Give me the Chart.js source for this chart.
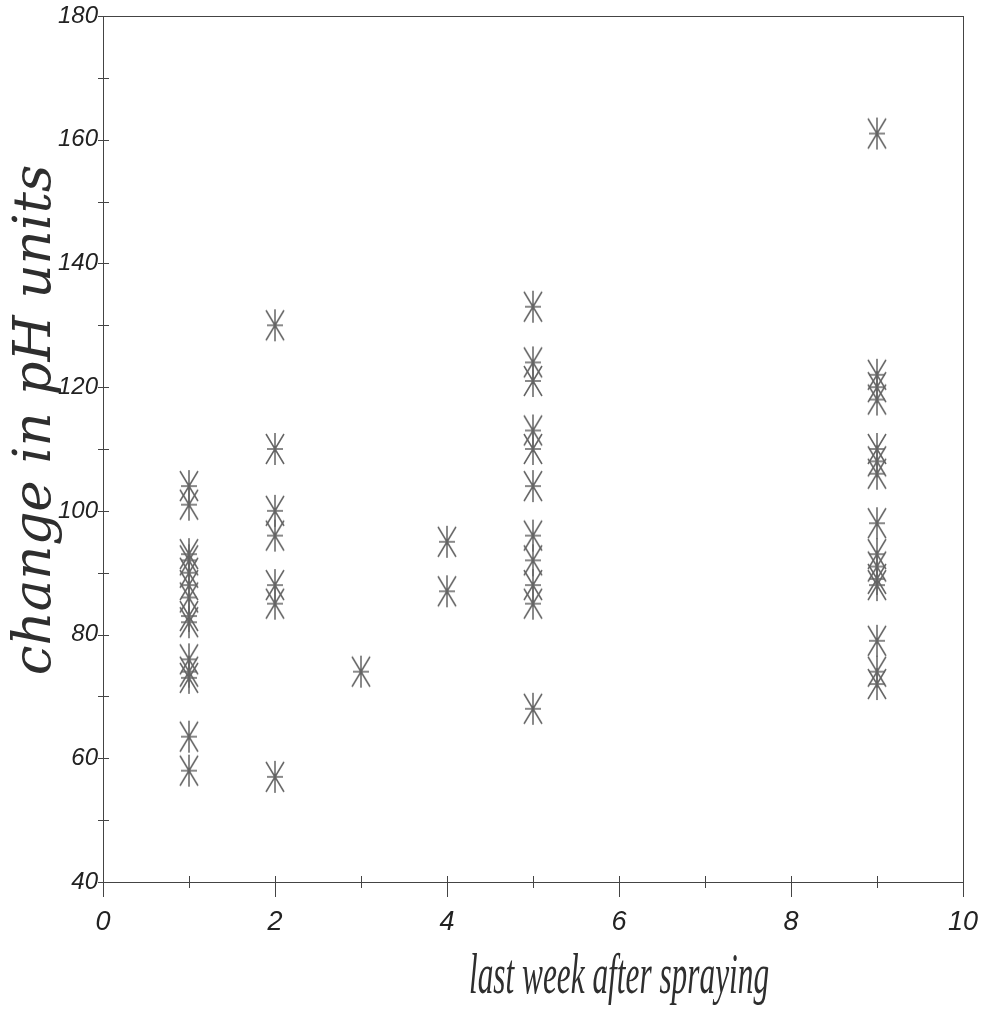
<!DOCTYPE html>
<html>
<head>
<meta charset="utf-8">
<script src="https://cdn.jsdelivr.net/npm/chart.js@4.4.1/dist/chart.umd.min.js"></script>
<style>
  html, body { margin: 0; padding: 0; background: #ffffff; }
  #wrap { width: 981px; height: 1012px; position: relative; }
</style>
</head>
<body>
<div id="wrap"><canvas id="c"></canvas></div>
<script>
// ---- data ----
const weeks = [1, 2, 3, 4, 5, 9];
const week1Change = [104, 101, 93, 92, 90, 88, 86, 83, 82, 76, 74, 73, 63.5, 58];
const week2Change = [130, 110, 100, 96, 88, 85, 57];
const week3Change = [74];
const week4Change = [95, 87];
const week5Change = [133, 124, 121, 113, 110, 104, 96, 92, 88, 85, 68];
const week9Change = [161, 122, 120, 118, 110, 108, 106, 98, 93, 91, 89, 88, 79, 74, 72];
const changeByWeek = [week1Change, week2Change, week3Change, week4Change, week5Change, week9Change];
const xTickValues = [0, 2, 4, 6, 8, 10];
const yTickValues = [40, 60, 80, 100, 120, 140, 160, 180];
const xTitle = 'last week after spraying';
const yTitle = 'change in pH units';

const points = [];
weeks.forEach((w, i) => changeByWeek[i].forEach(v => points.push({ x: w, y: v })));

// asterisk marker
function makeMarker() {
  const cv = document.createElement('canvas');
  cv.width = 24; cv.height = 34;
  const g = cv.getContext('2d');
  g.strokeStyle = '#646464';
  g.lineWidth = 1.5;
  g.beginPath();
  g.moveTo(12, 1); g.lineTo(12, 33);
  g.moveTo(3, 2); g.lineTo(21, 32);
  g.moveTo(21, 2); g.lineTo(3, 32);
  g.moveTo(4, 17); g.lineTo(20, 17);
  g.stroke();
  return cv;
}
const marker = makeMarker();

const frameTicks = {
  id: 'frameTicks',
  afterDraw(chart) {
    const { ctx, chartArea: a, scales: { x, y } } = chart;
    ctx.save();
    ctx.strokeStyle = '#444';
    ctx.lineWidth = 1;
    ctx.strokeRect(a.left + 0.5, a.top + 0.5, a.right - a.left, a.bottom - a.top);
    x.ticks.forEach(t => {
      const px = Math.round(x.getPixelForValue(t.value)) + 0.5;
      const major = t.value % 2 === 0;
      ctx.beginPath();
      ctx.moveTo(px, a.bottom - 6);
      ctx.lineTo(px, a.bottom + (major ? 15 : 6));
      ctx.stroke();
    });
    y.ticks.forEach(t => {
      const py = Math.round(y.getPixelForValue(t.value)) + 0.5;
      ctx.beginPath();
      ctx.moveTo(a.left - 5, py);
      ctx.lineTo(a.left + 6, py);
      ctx.stroke();
    });
    // axis titles
    ctx.fillStyle = '#2e2e2e';
    ctx.textAlign = 'center';
    ctx.textBaseline = 'alphabetic';
    // x title (condensed italic serif)
    ctx.save();
    ctx.translate(a.left + (a.right - a.left) * 0.6, 993);
    ctx.scale(0.54, 1);
    ctx.font = "italic 58px 'Liberation Serif', serif";
    ctx.fillText(xTitle, 0, 0);
    ctx.restore();
    // y title (rotated)
    ctx.save();
    ctx.translate(50, 420);
    ctx.rotate(-Math.PI / 2);
    ctx.font = "italic 53px 'DejaVu Serif', serif";
    ctx.fillText(yTitle, 0, 0);
    ctx.restore();
    ctx.restore();
  }
};

new Chart(document.getElementById('c'), {
  type: 'scatter',
  data: {
    datasets: [{
      data: points,
      pointStyle: marker,
      borderColor: '#646464',
      backgroundColor: 'transparent'
    }]
  },
  options: {
    responsive: true,
    maintainAspectRatio: false,
    animation: false,
    layout: { padding: { top: 16, right: 18, left: 0, bottom: 0 } },
    plugins: { legend: { display: false }, tooltip: { enabled: false } },
    scales: {
      x: {
        type: 'linear', min: 0, max: 10,
        afterFit: s => { s.height = 130; s.paddingRight = 0; s.paddingLeft = 0; },
        ticks: {
          stepSize: 1,
          padding: 24,
          color: '#222',
          maxRotation: 0,
          autoSkip: false,
          font: { family: "'Liberation Sans Narrow', 'Liberation Sans', Arial", style: 'italic', size: 27 },
          callback: v => xTickValues.includes(v) ? String(v) : ''
        },
        grid: { display: false, drawTicks: false },
        border: { display: false },
        title: { display: false }
      },
      y: {
        type: 'linear', min: 40, max: 180,
        afterFit: s => { s.width = 103; s.paddingTop = 0; s.paddingBottom = 0; },
        ticks: {
          stepSize: 10,
          padding: 5,
          color: '#222',
          autoSkip: false,
          font: { family: "'Liberation Sans Narrow', 'Liberation Sans', Arial", style: 'italic', size: 24 },
          callback: v => yTickValues.includes(v) ? String(v) : ''
        },
        grid: { display: false, drawTicks: false },
        border: { display: false },
        title: { display: false }
      }
    }
  },
  plugins: [frameTicks]
});
</script>
</body>
</html>
